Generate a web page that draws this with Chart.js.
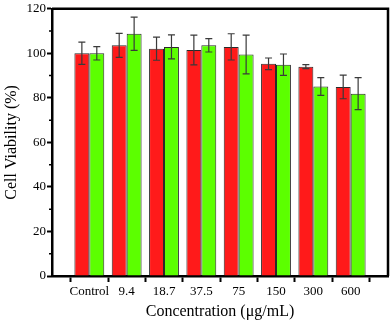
<!DOCTYPE html>
<html>
<head>
<meta charset="utf-8">
<script src="https://cdn.jsdelivr.net/npm/chart.js@4.4.0/dist/chart.umd.min.js"></script>
<style>
  body { margin: 0; background: #fff; }
</style>
</head>
<body>
<canvas id="chart" width="392" height="322"></canvas>
<script>
let categories = ["Control", "9.4", "18.7", "37.5", "75", "150", "300", "600"];
let redValues = [100, 103.6, 102.1, 101.5, 102.9, 95.3, 94.0, 84.9];
let redErrors = [5, 5.4, 5.2, 6.7, 5.9, 2.6, 0.9, 5.3];
let greenValues = [100, 108.8, 102.9, 103.6, 99.5, 94.9, 85.1, 81.9];
let greenErrors = [3, 7.5, 5.4, 3, 8.7, 4.8, 4, 7.2];
let yTicks = [0, 20, 40, 60, 80, 100, 120];
let yMinorTicks = [10, 30, 50, 70, 90, 110];

// empty slot at each end of the x axis
let labels = [""].concat(categories, [" "]);
function pad(arr) { return [null].concat(arr, [null]); }

let serif = "'Liberation Serif', 'Times New Roman', serif";

let errorBars = {
  id: "errorBars",
  afterDatasetsDraw(chart) {
    let ctx = chart.ctx;
    let y = chart.scales.y;
    ctx.save();
    ctx.strokeStyle = "#3a3a3a";
    ctx.lineWidth = 1.2;
    chart.data.datasets.forEach((ds, i) => {
      let meta = chart.getDatasetMeta(i);
      meta.data.forEach((bar, j) => {
        let v = ds.data[j];
        if (v == null) return;
        let e = ds.errors[j];
        let top = y.getPixelForValue(v + e);
        let bot = y.getPixelForValue(v - e);
        ctx.beginPath();
        ctx.moveTo(bar.x, top); ctx.lineTo(bar.x, bot);
        ctx.moveTo(bar.x - 3.5, top); ctx.lineTo(bar.x + 3.5, top);
        ctx.moveTo(bar.x - 3.5, bot); ctx.lineTo(bar.x + 3.5, bot);
        ctx.stroke();
      });
    });
    ctx.restore();
  }
};

let frame = {
  id: "frame",
  afterDraw(chart) {
    let ctx = chart.ctx;
    let a = chart.chartArea;
    let y = chart.scales.y;
    ctx.save();
    ctx.strokeStyle = "#000";
    ctx.lineWidth = 2.5;
    ctx.beginPath();
    ctx.moveTo(a.left, a.top);
    ctx.lineTo(a.right, a.top);
    ctx.lineTo(a.right, a.bottom);
    ctx.stroke();
    // minor y ticks
    ctx.lineWidth = 1.5;
    ctx.beginPath();
    yMinorTicks.forEach(v => {
      let p = y.getPixelForValue(v);
      ctx.moveTo(a.left - 3, p);
      ctx.lineTo(a.left, p);
    });
    ctx.stroke();
    ctx.restore();
  }
};

new Chart(document.getElementById("chart"), {
  type: "bar",
  data: {
    labels: labels,
    datasets: [
      {
        data: pad(redValues),
        errors: pad(redErrors),
        backgroundColor: "#ff1a1a",
        borderColor: "#2a2a2a",
        borderWidth: 1,
        categoryPercentage: 0.8,
        barPercentage: 1.0
      },
      {
        data: pad(greenValues),
        errors: pad(greenErrors),
        backgroundColor: "#5cff00",
        borderColor: "#2a2a2a",
        borderWidth: 1,
        categoryPercentage: 0.8,
        barPercentage: 1.0
      }
    ]
  },
  options: {
    responsive: false,
    animation: false,
    layout: { padding: { top: 7, right: 4, left: 0, bottom: 0 } },
    plugins: {
      legend: { display: false },
      tooltip: { enabled: false }
    },
    scales: {
      x: {
        offset: false,
        grid: { drawOnChartArea: false, drawTicks: true, tickLength: 6, tickWidth: 2, tickColor: "#000" },
        border: { color: "#000", width: 2.5 },
        ticks: { color: "#000", padding: 2, maxRotation: 0, autoSkip: false, font: { family: serif, size: 13 } },
        title: { display: true, text: "Concentration (μg/mL)", color: "#000", padding: { top: 0, bottom: 1 }, font: { family: serif, size: 16 } },
        afterFit(scale) { scale.height = 46; }
      },
      y: {
        min: 0,
        max: 120,
        afterBuildTicks(scale) { scale.ticks = yTicks.map(v => ({ value: v })); },
        grid: { drawOnChartArea: false, drawTicks: true, tickLength: 5, tickWidth: 2, tickColor: "#000" },
        border: { color: "#000", width: 2.5 },
        ticks: { color: "#000", padding: 1, font: { family: serif, size: 13 } },
        title: { display: true, text: "Cell Viability (%)", color: "#000", padding: { top: 2, bottom: 0 }, font: { family: serif, size: 16 } },
        afterFit(scale) { scale.width = 52; }
      }
    }
  },
  plugins: [errorBars, frame]
});
</script>
</body>
</html>
